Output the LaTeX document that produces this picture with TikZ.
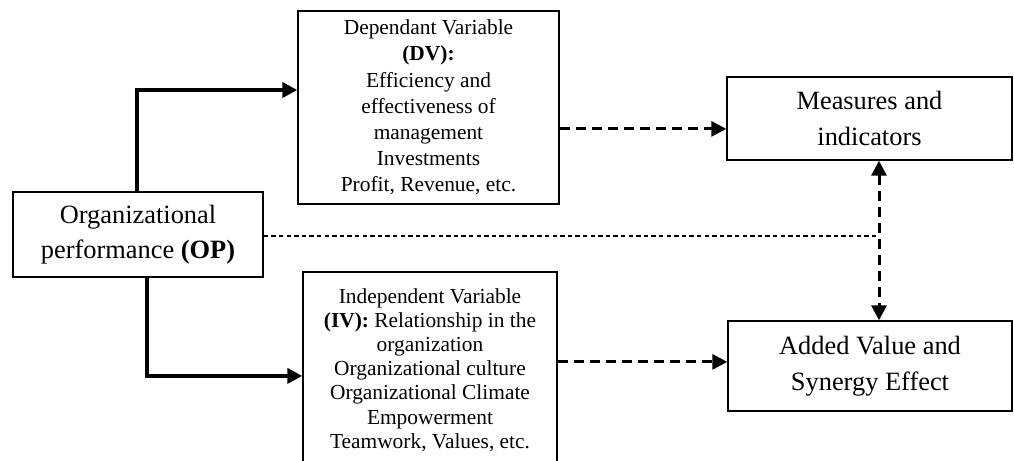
\documentclass[tikz,border=0pt]{standalone}
\usepackage{fontspec}
\setmainfont{Liberation Serif}
\usetikzlibrary{arrows.meta,calc}
\begin{document}
\begin{tikzpicture}[x=0.5pt,y=-0.5pt,
  box/.style={draw,line width=0.7pt,inner sep=0pt,align=center},
  bigtxt/.style={font=\fontsize{13.2}{17.8}\selectfont},
  dvtxt/.style={font=\fontsize{10.7}{13.1}\selectfont},
  ivtxt/.style={font=\fontsize{10.7}{12.1}\selectfont},
  tip/.style={},
  solidarrow/.style={line width=2pt,-{Triangle[length=7.5pt,width=7.5pt]}},
  dasharrow/.style={line width=1.5pt,dash pattern=on 5pt off 3pt,-{Triangle[length=7.5pt,width=7.5pt]}},
  dashboth/.style={line width=1.5pt,dash pattern=on 5pt off 3pt,{Triangle[length=7.5pt,width=7.5pt]}-{Triangle[length=7.5pt,width=7.5pt]}},
  thindash/.style={line width=0.6pt,dash pattern=on 2.2pt off 1.6pt}]
\useasboundingbox (0,0) rectangle (1014,461);
\clip (0,0) rectangle (1014,461);

\node[box,bigtxt,minimum width=125pt,minimum height=42.5pt] (op) at (138,234.5)
  {Organizational\\performance \textbf{(OP)}};
\node[box,dvtxt,minimum width=130.5pt,minimum height=96.5pt] (dv) at (428.5,107.5)
  {Dependant Variable\\\textbf{(DV):}\\Efficiency and\\effectiveness of\\management\\Investments\\Profit, Revenue, etc.};
\node[box,ivtxt,minimum width=127pt,minimum height=98pt] (iv) at (430,370)
  {Independent Variable\\\textbf{(IV):} Relationship in the\\organization\\Organizational culture\\Organizational Climate\\Empowerment\\Teamwork, Values, etc.};
\node[box,bigtxt,minimum width=142.5pt,minimum height=41.5pt] (mi) at (869.5,118.5)
  {Measures and\\indicators};
\node[box,bigtxt,minimum width=142pt,minimum height=45pt] (av) at (870,366)
  {Added Value and\\Synergy Effect};

\coordinate (vx) at (879,0);
\coordinate (dvin) at ($(dv.north west)!0.41!(dv.south west)$);
\coordinate (ivin) at ($(iv.north west)!0.53!(iv.south west)$);
\coordinate (dvout) at ($(dv.north east)!0.61!(dv.south east)$);
\coordinate (ivout) at ($(iv.north east)!0.459!(iv.south east)$);
\coordinate (opout) at ([yshift=-0.75pt]op.east);

\draw[solidarrow] ([xshift=-0.5pt]op.north) |- (dvin);
\draw[solidarrow] ([xshift=4.5pt]op.south) |- (ivin);
\draw[dasharrow] (dvout) -- (dvout -| mi.west);
\draw[dasharrow] (ivout) -- (ivout -| av.west);
\draw[thindash] (opout) -- (opout -| vx);
\draw[dashboth] (vx |- mi.south) -- (vx |- av.north);
\end{tikzpicture}
\end{document}
